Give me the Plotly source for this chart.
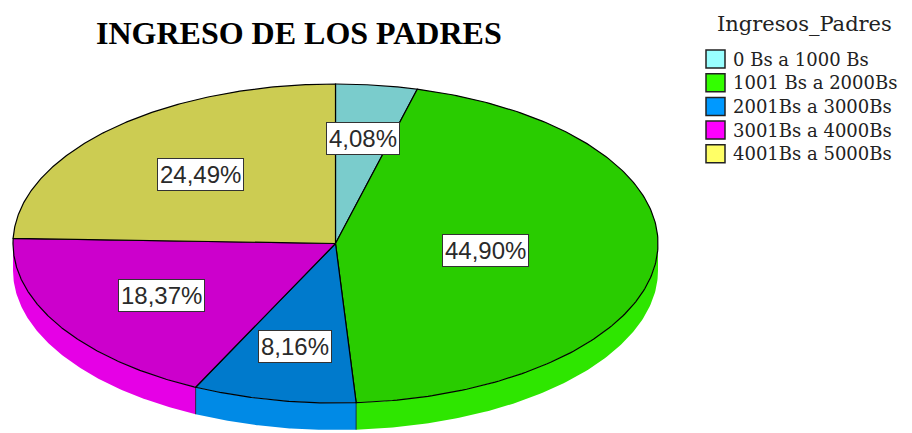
import numpy as np
import plotly.graph_objects as go

# ---- data ----
categories = ["0 Bs a 1000 Bs", "1001 Bs a 2000Bs", "2001Bs a 3000Bs",
              "3001Bs a 4000Bs", "4001Bs a 5000Bs"]
percentages = [4.08, 44.90, 8.16, 18.37, 24.49]
pct_labels = ["4,08%", "44,90%", "8,16%", "18,37%", "24,49%"]
base_colors = ["#99FFFF", "#33FF00", "#0099FF", "#FF00FF", "#FFFF66"]
title_text = "INGRESO DE LOS PADRES"
legend_title = "Ingresos_Padres"

# ---- geometry (pixel space) ----
W, H = 912, 433
CX, CY = 335.5, 243.5
RX, RY = 322.5, 159.5
DEPTH = 27


def shade(hexc, f):
    h = hexc.lstrip("#")
    r, g, b = int(h[0:2], 16), int(h[2:4], 16), int(h[4:6], 16)
    return "rgb(%d,%d,%d)" % (round(r * f), round(g * f), round(b * f))


def pt(t, dy=0.0):
    return CX + RX * np.sin(t), CY - RY * np.cos(t) + dy


fig = go.Figure()

vals = np.array(percentages) / np.sum(percentages)
bounds = np.concatenate([[0], np.cumsum(vals)]) * 2 * np.pi

# side walls (front half only: t in [pi/2, 3pi/2])
for i in range(len(vals)):
    t0, t1 = bounds[i], bounds[i + 1]
    a, b = max(t0, np.pi / 2), min(t1, 3 * np.pi / 2)
    if a >= b:
        continue
    ts = np.linspace(a, b, 120)
    xt, yt = pt(ts)
    xb, yb = pt(ts[::-1], DEPTH)
    fig.add_trace(go.Scatter(
        x=np.concatenate([xt, xb]), y=np.concatenate([yt, yb]),
        mode="lines", fill="toself", fillcolor=shade(base_colors[i], 0.9),
        line=dict(width=0), hoverinfo="skip", showlegend=False))

# vertical edges of side walls at slice boundaries
for t in bounds[1:-1]:
    if np.pi / 2 < t < 3 * np.pi / 2:
        x0, y0 = pt(t)
        x1, y1 = pt(t, DEPTH)
        fig.add_trace(go.Scatter(x=[x0, x1], y=[y0, y1], mode="lines",
                                 line=dict(color="rgba(0,0,0,0.7)", width=1),
                                 hoverinfo="skip", showlegend=False))

# top faces
for i in range(len(vals)):
    ts = np.linspace(bounds[i], bounds[i + 1], 200)
    xs, ys = pt(ts)
    fig.add_trace(go.Scatter(
        x=np.concatenate([[CX], xs, [CX]]), y=np.concatenate([[CY], ys, [CY]]),
        mode="lines", fill="toself", fillcolor=shade(base_colors[i], 0.8),
        line=dict(color="black", width=1.2), name=categories[i],
        hoverinfo="name", showlegend=False))

annotations = []
# percentage labels at sector centroids
for i in range(len(vals)):
    alpha = bounds[i + 1] - bounds[i]
    tm = (bounds[i] + bounds[i + 1]) / 2
    d = 4 * np.sin(alpha / 2) / (3 * alpha)
    lx = CX + RX * d * np.sin(tm)
    ly = CY - RY * d * np.cos(tm)
    annotations.append(dict(
        x=lx, y=ly, xref="x", yref="y", text=pct_labels[i], showarrow=False,
        font=dict(family="Liberation Sans", size=24, color="#2a2a2a"),
        bgcolor="white", bordercolor="#333333", borderwidth=1, borderpad=2,
        xanchor="center", yanchor="middle"))

# title
annotations.append(dict(
    x=299, y=33, xref="x", yref="y", text="<b>%s</b>" % title_text,
    showarrow=False, font=dict(family="Liberation Serif", size=32, color="black"),
    xanchor="center", yanchor="middle"))

# custom legend
annotations.append(dict(
    x=715, y=24, xref="x", yref="y", text=legend_title, showarrow=False,
    font=dict(family="DejaVu Serif", size=21, color="#222222"),
    xanchor="left", yanchor="middle"))
shapes = []
for i, cat in enumerate(categories):
    yc = 59 + i * 23.7
    shapes.append(dict(type="rect", xref="x", yref="y", x0=706, x1=725,
                       y0=yc - 9, y1=yc + 9, fillcolor=base_colors[i],
                       line=dict(color="#222222", width=1.5)))
    annotations.append(dict(
        x=731, y=yc, xref="x", yref="y", text=cat, showarrow=False,
        font=dict(family="DejaVu Serif", size=18, color="#222222"),
        xanchor="left", yanchor="middle"))

fig.update_layout(
    width=W, height=H, margin=dict(l=0, r=0, t=0, b=0),
    paper_bgcolor="white", plot_bgcolor="white",
    xaxis=dict(range=[0, W], visible=False, fixedrange=True),
    yaxis=dict(range=[H, 0], visible=False, fixedrange=True),
    annotations=annotations, shapes=shapes, showlegend=False)

fig.write_html("out.html", config={"displayModeBar": False})

# remove the browser's default page margin so the figure sits at (0, 0)
with open("out.html", "r", encoding="utf-8") as f:
    html = f.read()
html = html.replace("<head>", "<head><style>html,body{margin:0;padding:0;overflow:hidden;}</style>", 1)
with open("out.html", "w", encoding="utf-8") as f:
    f.write(html)
